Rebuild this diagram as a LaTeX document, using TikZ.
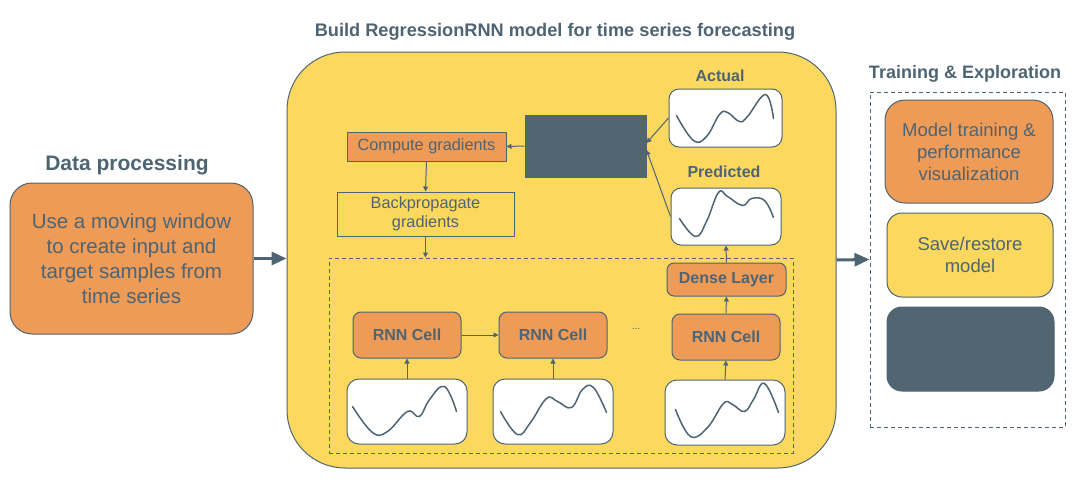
\documentclass[tikz,border=0pt]{standalone}
\usepackage{fontspec}
\setmainfont{Liberation Sans}
\usetikzlibrary{arrows.meta}
\definecolor{slate}{HTML}{4E6472}
\definecolor{tangerine}{HTML}{EE9B58}
\definecolor{mustard}{HTML}{FCD95E}
\definecolor{darkpanel}{HTML}{526672}
\newcommand{\ArrTip}{Triangle[length=5,width=5]}
\newcommand{\BigTip}{Triangle[length=15,width=13]}
\newcommand{\Fs}[2]{\fontsize{#1}{#2}\selectfont}
\tikzset{box/.style={draw=slate,line width=1pt,text=slate,align=center,inner sep=0pt}}
\tikzset{obox/.style={box,fill=tangerine},ybox/.style={box,fill=mustard},dbox/.style={box,fill=darkpanel}}
\tikzset{wbox/.style={box,fill=white,minimum width=120pt,minimum height=65pt,rounded corners=12pt}}
\tikzset{cell/.style={obox,rounded corners=8pt,minimum width=108pt,minimum height=46pt,font=\bfseries\Fs{16}{19}}}
\tikzset{flow/.style={draw=slate,line width=1pt,-{\ArrTip}},bigflow/.style={draw=slate,line width=3pt,-{\BigTip}}}
\tikzset{wave/.style={draw=slate,line width=1.5pt,line cap=round}}
\tikzset{ttl/.style={text=slate,font=\bfseries\Fs{16}{19}}}
\newcommand{\Wave}[2]{\draw[wave,shift={(#1.north west)}] plot[smooth,tension=.7] coordinates {#2};}

\begin{document}
\begin{tikzpicture}[x=1pt,y=-1pt]
\useasboundingbox (0,0) rectangle (1080,498);
% data processing
\node[ttl,font=\bfseries\Fs{21}{25}] (dptitle) at (127,165) {Data processing};
\node[obox,rounded corners=22pt,minimum width=243pt,minimum height=151pt,font=\Fs{20.5}{25}] (data) at (131.5,258.5) {Use a moving window\\to create input and\\target samples from\\time series};
% model
\node[ttl,font=\bfseries\Fs{18.2}{22}] (mtitle) at (555,32) {Build RegressionRNN model for time series forecasting};
\node[ybox,rounded corners=58pt,minimum width=549pt,minimum height=416pt] (model) at (561.5,260) {};
\node[obox,minimum width=159pt,minimum height=29pt,font=\Fs{16.3}{19}] (grad) at (426.5,146.5) {Compute gradients};
\node[ybox,minimum width=177pt,minimum height=44pt,font=\Fs{16.3}{19}] (backprop) at (425.5,214) {Backpropagate\\gradients};
\node[dbox,minimum width=121pt,minimum height=62pt] (loss) at (585.5,146) {};
\node[ttl] (acttitle) at (720,76) {Actual};
\node[wbox,minimum width=113pt,minimum height=58pt,rounded corners=10pt] (actual) at (725.5,118) {};
\node[ttl] (predtitle) at (724,172) {Predicted};
\node[wbox,minimum width=110pt,minimum height=57pt,rounded corners=10pt] (pred) at (726,216.5) {};
\node[draw=slate,line width=1pt,dash pattern=on 4pt off 3pt,minimum width=464pt,minimum height=195pt] (unroll) at (561,355.5) {};
\node[obox,rounded corners=7pt,minimum width=119pt,minimum height=33pt,font=\bfseries\Fs{16}{19}] (dense) at (726.5,279.5) {Dense Layer};
\node[cell] (rnn1) at (407,335) {RNN Cell};
\node[cell] (rnn2) at (553,335) {RNN Cell};
\node[cell] (rnn3) at (726,337) {RNN Cell};
\node[text=slate,font=\Fs{10}{12}] (dots) at (636,329) {...};
\node[wbox] (seq1) at (407,411.5) {};
\node[wbox] (seq2) at (553,411.5) {};
\node[wbox] (seq3) at (725,412.5) {};
% curves
\Wave{actual}{(8,27) (25,52) (38,48) (51,26) (59,24) (71,33) (79,28) (97,6) (105,30)}
\Wave{pred}{(9,31) (25,49) (36,34) (48,5) (57,9) (72,18) (81,11) (94,13) (103,30)}
\Wave{seq1}{(6,28) (26,54) (41,53) (61,33) (73,38) (83,21) (98,8) (110,33)}
\Wave{seq2}{(8,33) (25,56) (38,44) (54,20) (65,23) (79,29) (90,11) (101,9) (114,34)}
\Wave{seq3}{(11,30) (26,57) (43,48) (59,24) (68,25) (80,32) (89,20) (100,4) (114,33)}
% training
\node[ttl,font=\bfseries\Fs{18}{22}] (trtitle) at (965,74) {Training \& Exploration};
\node[draw=slate,line width=1pt,dash pattern=on 4pt off 3pt,minimum width=195pt,minimum height=335pt] (train) at (967.5,259.5) {};
\node[obox,rounded corners=20pt,minimum width=168pt,minimum height=103pt,font=\Fs{18.5}{22}] (fit) at (969,151.5) {Model training \&\\performance\\visualization};
\node[ybox,rounded corners=15pt,minimum width=166pt,minimum height=84pt,font=\Fs{18.5}{22}] (save) at (970,255) {Save/restore\\model};
\node[dbox,rounded corners=15pt,minimum width=167pt,minimum height=84pt] (explore) at (970.5,349) {};
% arrows
\draw[bigflow](data.east)--(data.east-|model.west);\draw[bigflow](model.east)--(train.west);
\draw[flow](loss.west)--(grad.east);\draw[flow](grad.south)--(backprop.north);\draw[flow](backprop.south)--(backprop.south|-unroll.north);
\draw[flow](actual.west)--([yshift=3pt]loss.east);\draw[flow](pred.west)--([yshift=-4pt]loss.east);
\draw[flow](seq1.north)--(rnn1.south);\draw[flow](seq2.north)--(rnn2.south);\draw[flow](seq3.north)--(rnn3.south);
\draw[flow](rnn1.east)--(rnn2.west);\draw[flow](rnn3.north)--(dense.south);\draw[flow](dense.north)--(pred.south);
\end{tikzpicture}
\end{document}
